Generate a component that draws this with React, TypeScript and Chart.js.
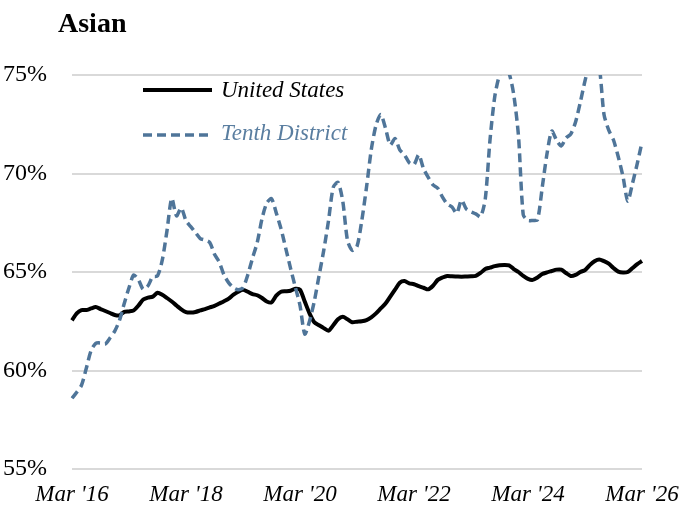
import React, { useEffect, useRef } from "react";
import { Chart, registerables } from "chart.js";

Chart.register(...registerables);

const TITLE = "Asian";
const SERIES_US = "United States";
const SERIES_TD = "Tenth District";

const START_YEAR = 2016;
const MONTH_NAMES = ["Mar", "Apr", "May", "Jun", "Jul", "Aug", "Sep", "Oct", "Nov", "Dec", "Jan", "Feb"];

const tickLabels = ["Mar '16", "Mar '18", "Mar '20", "Mar '22", "Mar '24", "Mar '26"];
const yTicks = [55, 60, 65, 70, 75];

const unitedStates = [
  62.55, 62.9, 63.07, 63.07, 63.15, 63.22, 63.12, 63.02, 62.92, 62.82,
  62.8, 62.98, 63.0, 63.05, 63.3, 63.6, 63.7, 63.75, 63.95, 63.85,
  63.68, 63.5, 63.3, 63.1, 62.96, 62.94, 62.97, 63.05, 63.12, 63.2,
  63.28, 63.4, 63.52, 63.65, 63.85, 64.0, 64.1, 64.0, 63.88, 63.82,
  63.68, 63.5, 63.46, 63.8, 64.0, 64.02, 64.05, 64.15, 64.1, 63.5,
  62.9, 62.45, 62.3, 62.15, 62.02, 62.3, 62.6, 62.73, 62.6, 62.45,
  62.48, 62.5, 62.56, 62.7, 62.9, 63.15, 63.4, 63.75, 64.1, 64.45,
  64.54, 64.42, 64.38, 64.28, 64.2, 64.12, 64.3, 64.6, 64.72, 64.8,
  64.78, 64.77, 64.76, 64.77, 64.78, 64.8, 64.95, 65.15, 65.22, 65.3,
  65.34, 65.36, 65.34, 65.15, 65.0, 64.8, 64.65, 64.6, 64.72, 64.9,
  64.98, 65.05, 65.12, 65.12, 64.95, 64.8, 64.85, 65.0, 65.1, 65.35,
  65.55, 65.64, 65.55, 65.42, 65.2, 65.02, 64.97, 65.0, 65.2, 65.4,
  65.56,
];

const tenthDistrict = [
  58.59, 58.9, 59.25, 60.1, 61.0, 61.38, 61.4, 61.35, 61.65, 62.0,
  62.55, 63.4, 64.2, 64.85, 64.6, 64.12, 64.3, 64.76, 64.8, 65.6,
  67.1, 68.74, 67.85, 68.25, 67.6, 67.3, 67.0, 66.7, 66.62, 66.5,
  65.9, 65.5, 64.85, 64.45, 64.2, 64.1, 64.2, 64.85, 65.7, 66.5,
  67.7, 68.5, 68.72, 68.0, 67.2, 66.2, 65.2, 64.25, 63.3, 61.85,
  62.5, 63.5, 64.8, 66.1, 67.6, 69.3, 69.55, 68.6, 66.6, 66.1,
  66.3, 67.6, 69.3, 71.2, 72.45, 73.0, 72.3, 71.45, 71.78, 71.2,
  70.95, 70.55, 70.45, 70.95, 70.25, 69.8, 69.42, 69.25, 68.8, 68.45,
  68.3, 67.98, 68.65, 68.2, 68.05, 67.95, 67.8, 68.7, 71.7, 73.9,
  75.0, 75.4, 75.1, 74.0, 71.9, 67.9, 67.62, 67.62, 67.65, 69.3,
  71.0, 72.15, 71.7, 71.4, 71.8, 72.0, 72.6, 73.6, 74.7, 75.6,
  75.8, 75.4, 73.0, 72.2, 71.7, 70.85, 69.85, 68.6, 69.5, 70.5,
  71.6,
];

const categories = unitedStates.map((_, i) => {
  const yr = START_YEAR + Math.floor((i + 2) / 12);
  return `${MONTH_NAMES[i % 12]} '${String(yr).slice(2)}`;
});

const US_COLOR = "#000000";
const TD_COLOR = "#4F7599";
const TD_TEXT = "#5A7EA0";
const SERIF = "'Liberation Serif', 'Times New Roman', serif";

const overlayPlugin = {
  id: "overlay",
  afterDraw(chart: any) {
    const ctx = chart.ctx as CanvasRenderingContext2D;
    ctx.save();
    ctx.fillStyle = "#000";
    ctx.textBaseline = "alphabetic";
    ctx.textAlign = "left";
    ctx.font = `bold 28px ${SERIF}`;
    ctx.fillText(TITLE, 58, 32);

    ctx.setLineDash([]);
    ctx.strokeStyle = US_COLOR;
    ctx.lineWidth = 4;
    ctx.beginPath();
    ctx.moveTo(143, 90);
    ctx.lineTo(212, 90);
    ctx.stroke();
    ctx.font = `italic 23px ${SERIF}`;
    ctx.fillStyle = "#000";
    ctx.fillText(SERIES_US, 221, 97);

    ctx.strokeStyle = TD_COLOR;
    ctx.lineWidth = 3.5;
    ctx.setLineDash([9, 5]);
    ctx.beginPath();
    ctx.moveTo(143, 135);
    ctx.lineTo(212, 135);
    ctx.stroke();
    ctx.setLineDash([]);
    ctx.fillStyle = TD_TEXT;
    ctx.fillText(SERIES_TD, 221, 140);
    ctx.restore();
  },
};

export default function App() {
  const ref = useRef<HTMLCanvasElement | null>(null);
  useEffect(() => {
    document.body.style.margin = "0";
    const canvas = ref.current!;
    const chart = new Chart(canvas, {
      type: "line",
      data: {
        labels: categories,
        datasets: [
          {
            label: SERIES_TD,
            data: tenthDistrict,
            borderColor: TD_COLOR,
            borderWidth: 3.5,
            borderDash: [9, 5],
            pointRadius: 0,
            tension: 0.25,
            fill: false,
          },
          {
            label: SERIES_US,
            data: unitedStates,
            borderColor: US_COLOR,
            borderWidth: 4,
            pointRadius: 0,
            tension: 0.25,
            fill: false,
          },
        ],
      },
      options: {
        animation: false,
        responsive: false,
        maintainAspectRatio: false,
        layout: { padding: { top: 75, right: 37, left: 0, bottom: 0 } },
        plugins: {
          legend: { display: false },
          title: { display: false },
          tooltip: { enabled: false },
        },
        scales: {
          x: {
            grid: { display: false, drawTicks: false },
            border: { display: false },
            afterFit(scale: any) {
              scale.height = 46;
              scale.paddingLeft = 0;
              scale.paddingRight = 0;
            },
            ticks: {
              autoSkip: false,
              maxRotation: 0,
              minRotation: 0,
              padding: 12,
              color: "#000",
              font: { family: SERIF, size: 23, style: "italic" },
              callback: (_v: any, i: number) => (i % 24 === 0 ? tickLabels[i / 24] : ""),
            },
          },
          y: {
            min: yTicks[0],
            max: yTicks[yTicks.length - 1],
            grid: { color: "#d9d9d9", lineWidth: 2, drawTicks: false },
            border: { display: false },
            afterFit(scale: any) {
              scale.width = 72;
              scale.paddingTop = 0;
              scale.paddingBottom = 0;
            },
            ticks: {
              stepSize: 5,
              padding: 25,
              color: "#000",
              font: { family: SERIF, size: 24 },
              callback: (v: any) => `${v}%`,
            },
          },
        },
      },
      plugins: [overlayPlugin],
    });
    return () => chart.destroy();
  }, []);
  return (
    <div style={{ position: "relative", width: 679, height: 515 }}>
      <canvas ref={ref} width={679} height={515} style={{ display: "block", width: 679, height: 515 }} />
    </div>
  );
}
